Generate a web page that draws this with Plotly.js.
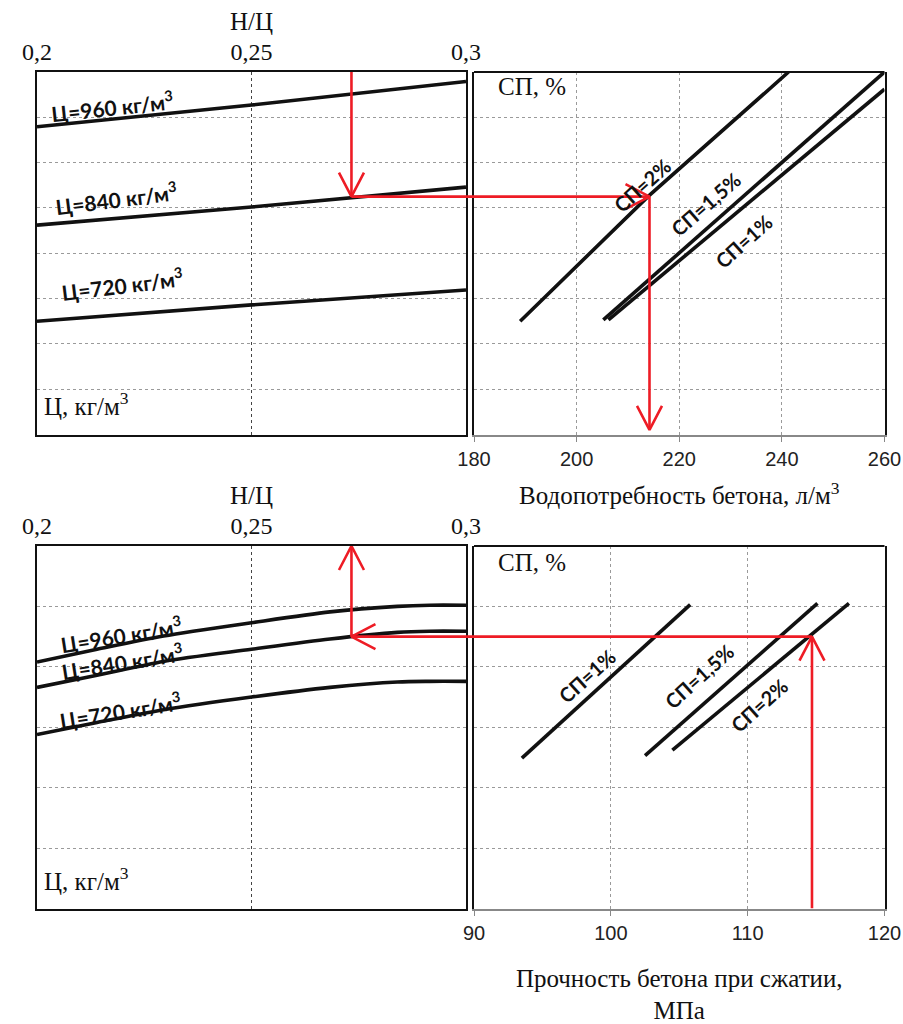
<!DOCTYPE html>
<html>
<head>
<meta charset="utf-8">
<script src="https://cdn.plot.ly/plotly-3.0.1.min.js"></script>
<style>html,body{margin:0;padding:0;background:#fff}#chart{width:903px;height:1024px}</style>
</head>
<body>
<div id="chart"></div>
<script>
// ================= DATA =================
const wcTickVals = [0.2, 0.25, 0.3];
const wcTickText = ['0,2', '0,25', '0,3'];
const waterTicks = [180, 200, 220, 240, 260];
const strengthTicks = [90, 100, 110, 120];

// Top-left: cement content lines vs Н/Ц (nomogram level scale 0..8)
const topWc = [0.2, 0.25, 0.3];
const topC960 = [6.79, 7.27, 7.79];
const topC840 = [4.62, 5.02, 5.46];
const topC720 = [2.50, 2.86, 3.19];

// Top-right: water demand lines (x = л/м3, y = level)
const waterSP2x = [189.0, 214.0, 241.3];
const waterSP2y = [2.50, 5.26, 8.0];
const waterSP15x = [205.2, 260.0];
const waterSP15y = [2.53, 8.0];
const waterSP1x = [206.2, 260.0];
const waterSP1y = [2.53, 7.62];

// Bottom-left: cement content curves vs Н/Ц (level scale 0..6)
const botWc = [0.2, 0.214, 0.2295, 0.25, 0.2683, 0.284, 0.2915, 0.3];
const botC960 = [4.08, 4.29, 4.51, 4.73, 4.91, 5.00, 5.02, 5.02];
const botC840 = [3.66, 3.86, 4.09, 4.29, 4.46, 4.57, 4.59, 4.59];
const botC720 = [2.88, 3.08, 3.29, 3.50, 3.66, 3.75, 3.76, 3.76];

// Bottom-right: compressive strength lines (x = МПа)
const strSP1x = [93.5, 105.8];
const strSP1y = [2.49, 5.03];
const strSP15x = [102.5, 115.1];
const strSP15y = [2.53, 5.05];
const strSP2x = [104.5, 117.4];
const strSP2y = [2.62, 5.05];

// Worked example (red arrows)
const exWc = 0.2733;
const exTopLevel = 5.25;
const exWater = 214.2;
const exWaterEnd = 0.1;
const exBotLevel = 4.50;
const exStrength = 114.7;

// ================= LAYOUT GEOMETRY =================
const W = 903, H = 1024;
const dxL = [37 / W, 466 / W];
const dxR = [474 / W, 884.5 / W];
const dyT = [1 - 434.5 / H, 1 - 72 / H];
const dyB = [1 - 908.5 / H, 1 - 546 / H];
const rTopY = [0, 8], rBotY = [0, 6];
const rWc = [0.2, 0.3], rWater = [180, 260], rStr = [90, 120];

function ppu(dom, rng, size) { return (dom[1] - dom[0]) * size / (rng[1] - rng[0]); }
const pxWcT = ppu(dxL, rWc, W), pxWater = ppu(dxR, rWater, W), pxStr = ppu(dxR, rStr, W);
const pyT = ppu(dyT, rTopY, H), pyB = ppu(dyB, rBotY, H);

const SERIF = 'Liberation Serif, Times New Roman, serif';
const SANS = 'Liberation Sans, Arial, sans-serif';
const BOLD = 'Lato, Open Sans, sans-serif';
const RED = '#ee1c25';
const HL = 24, HW = 12.5; // arrowhead length / half width in px

function blk(x, y, xa, ya, shape) {
  return {x: x, y: y, xaxis: xa, yaxis: ya, mode: 'lines', type: 'scatter',
    line: {color: '#111', width: 3.6, shape: shape || 'linear', smoothing: 0.8},
    hoverinfo: 'skip', showlegend: false};
}
function red(x, y, xa, ya) {
  return {x: x, y: y, xaxis: xa, yaxis: ya, mode: 'lines', type: 'scatter',
    line: {color: RED, width: 2.6}, hoverinfo: 'skip', showlegend: false};
}
// arrowhead (open chevron) at tip, direction: 'up','down','left','right'
function head(tx, ty, dir, xa, ya, pxX, pxY) {
  let x, y;
  if (dir === 'down') { x = [tx - HW / pxX, tx, tx + HW / pxX]; y = [ty + HL / pxY, ty, ty + HL / pxY]; }
  if (dir === 'up') { x = [tx - HW / pxX, tx, tx + HW / pxX]; y = [ty - HL / pxY, ty, ty - HL / pxY]; }
  if (dir === 'right') { x = [tx - HL / pxX, tx, tx - HL / pxX]; y = [ty + HW / pxY, ty, ty - HW / pxY]; }
  if (dir === 'left') { x = [tx + HL / pxX, tx, tx + HL / pxX]; y = [ty + HW / pxY, ty, ty - HW / pxY]; }
  return red(x, y, xa, ya);
}

const traces = [
  // top-left
  blk(topWc, topC960, 'x', 'y'),
  blk(topWc, topC840, 'x', 'y'),
  blk(topWc, topC720, 'x', 'y'),
  // top-right
  blk(waterSP2x, waterSP2y, 'x2', 'y2'),
  blk(waterSP15x, waterSP15y, 'x2', 'y2'),
  blk(waterSP1x, waterSP1y, 'x2', 'y2'),
  // bottom-left
  blk(botWc, botC960, 'x3', 'y3', 'spline'),
  blk(botWc, botC840, 'x3', 'y3', 'spline'),
  blk(botWc, botC720, 'x3', 'y3', 'spline'),
  // bottom-right
  blk(strSP1x, strSP1y, 'x4', 'y4'),
  blk(strSP15x, strSP15y, 'x4', 'y4'),
  blk(strSP2x, strSP2y, 'x4', 'y4'),
  // red example, top
  red([exWc, exWc], [rTopY[1], exTopLevel], 'x', 'y'),
  head(exWc, exTopLevel, 'down', 'x', 'y', pxWcT, pyT),
  red([exWc, rWc[1]], [exTopLevel, exTopLevel], 'x', 'y'),
  red([rWater[0], exWater], [exTopLevel, exTopLevel], 'x2', 'y2'),
  head(exWater, exTopLevel, 'right', 'x2', 'y2', pxWater, pyT),
  red([exWater, exWater], [exTopLevel, exWaterEnd], 'x2', 'y2'),
  head(exWater, exWaterEnd, 'down', 'x2', 'y2', pxWater, pyT),
  // red example, bottom
  red([exStrength, exStrength], [rBotY[0], exBotLevel], 'x4', 'y4'),
  head(exStrength, exBotLevel, 'up', 'x4', 'y4', pxStr, pyB),
  red([exStrength, rStr[0]], [exBotLevel, exBotLevel], 'x4', 'y4'),
  red([rWc[1], exWc], [exBotLevel, exBotLevel], 'x3', 'y3'),
  head(exWc, exBotLevel, 'left', 'x3', 'y3', ppu(dxL, rWc, W), pyB),
  red([exWc, exWc], [exBotLevel, rBotY[1]], 'x3', 'y3'),
  head(exWc, rBotY[1], 'up', 'x3', 'y3', ppu(dxL, rWc, W), pyB)
];

function leftX(dom, anchor) {
  return {domain: dom, range: rWc, anchor: anchor, side: 'top',
    tickvals: wcTickVals, ticktext: wcTickText, ticks: '', ticklabelstandoff: 0,
    tickfont: {family: SERIF, size: 24, color: '#111'},
    title: {text: 'Н/Ц', font: {family: SERIF, size: 25, color: '#111'}, standoff: 2},
    showgrid: true, gridcolor: '#444', griddash: 'dot', gridwidth: 1,
    showline: true, mirror: true, linecolor: '#111', linewidth: 2, zeroline: false, fixedrange: true};
}
function levelY(dom, anchor, rng) {
  return {domain: dom, range: rng, anchor: anchor, dtick: 1, showticklabels: false, ticks: '',
    showgrid: true, gridcolor: '#9a9a9a', griddash: 'dot', gridwidth: 1,
    showline: true, mirror: true, linecolor: '#111', linewidth: 2, zeroline: false, fixedrange: true};
}
function rightX(dom, anchor, rng, ticks, title, standoff) {
  return {domain: dom, range: rng, anchor: anchor, side: 'bottom', tickvals: ticks,
    ticks: 'outside', ticklen: 5, tickcolor: '#888', tickwidth: 1,
    tickfont: {family: SANS, size: 20, color: '#222'},
    title: {text: title, font: {family: SERIF, size: 25, color: '#111'}, standoff: standoff},
    showgrid: true, gridcolor: '#9a9a9a', griddash: 'dot', gridwidth: 1,
    showline: true, mirror: false, linecolor: '#888', linewidth: 2, zeroline: false, fixedrange: true};
}

function lbl(text, x, y, xr, yr, angle, size) {
  return {text: text, x: x, y: y, xref: xr, yref: yr, showarrow: false, textangle: angle,
    font: {family: BOLD, size: size || 20, color: '#111', weight: 'bold'}, xanchor: 'center', yanchor: 'middle'};
}
function plain(text, x, y, xr, yr, xanchor) {
  return {text: text, x: x, y: y, xref: xr, yref: yr, showarrow: false,
    font: {family: SERIF, size: 25, color: '#111'}, xanchor: xanchor || 'center', yanchor: 'middle'};
}

const annotations = [
  lbl('Ц=960 кг/м<sup>3</sup>', 0.2175, 7.25, 'x', 'y', -6, 21),
  lbl('Ц=840 кг/м<sup>3</sup>', 0.2184, 5.22, 'x', 'y', -7, 21),
  lbl('Ц=720 кг/м<sup>3</sup>', 0.2197, 3.32, 'x', 'y', -7, 21),
  lbl('СП=2%', 212.8, 5.51, 'x2', 'y2', -42),
  lbl('СП=1,5%', 225.2, 5.08, 'x2', 'y2', -41),
  lbl('СП=1%', 232.6, 4.26, 'x2', 'y2', -42),
  lbl('Ц=960 кг/м<sup>3</sup>', 0.2196, 4.54, 'x3', 'y3', -9, 21),
  lbl('Ц=840 кг/м<sup>3</sup>', 0.2198, 4.10, 'x3', 'y3', -9, 21),
  lbl('Ц=720 кг/м<sup>3</sup>', 0.2193, 3.29, 'x3', 'y3', -9, 21),
  lbl('СП=1%', 98.24, 3.85, 'x4', 'y4', -42),
  lbl('СП=1,5%', 106.46, 3.85, 'x4', 'y4', -42),
  lbl('СП=2%', 110.85, 3.37, 'x4', 'y4', -42),
  plain('СП, %', 191.3, 7.67, 'x2', 'y2'),
  plain('СП, %', 94.24, 5.73, 'x4', 'y4'),
  plain('Ц, кг/м<sup>3</sup>', 0.2012, 0.67, 'x', 'y', 'left'),
  plain('Ц, кг/м<sup>3</sup>', 0.2012, 0.49, 'x3', 'y3', 'left')
];

const shapes = [
  // top borders of right panels
  {type: 'line', xref: 'x2 domain', yref: 'y2 domain', x0: 0, x1: 1, y0: 1, y1: 1, line: {color: '#111', width: 2}},
  {type: 'line', xref: 'x4 domain', yref: 'y4 domain', x0: 0, x1: 1, y0: 1, y1: 1, line: {color: '#111', width: 2}},
  // red connector across the gap between panels
  {type: 'line', xref: 'paper', yref: 'y', x0: dxL[1], x1: dxR[0], y0: exTopLevel, y1: exTopLevel, line: {color: RED, width: 2.6}},
  {type: 'line', xref: 'paper', yref: 'y3', x0: dxL[1], x1: dxR[0], y0: exBotLevel, y1: exBotLevel, line: {color: RED, width: 2.6}}
];

const layout = {
  width: W, height: H,
  margin: {l: 0, r: 0, t: 0, b: 0},
  paper_bgcolor: '#fff', plot_bgcolor: '#fff',
  showlegend: false,
  xaxis: leftX(dxL, 'y'),
  yaxis: levelY(dyT, 'x', rTopY),
  xaxis2: rightX(dxR, 'y2', rWater, waterTicks, 'Водопотребность бетона, л/м<sup>3</sup>', 18),
  yaxis2: levelY(dyT, 'x2', rTopY),
  xaxis3: leftX(dxL, 'y3'),
  yaxis3: levelY(dyB, 'x3', rBotY),
  xaxis4: rightX(dxR, 'y4', rStr, strengthTicks, 'Прочность бетона при сжатии,<br>МПа', 32),
  yaxis4: levelY(dyB, 'x4', rBotY),
  annotations: annotations,
  shapes: shapes
};

Plotly.newPlot('chart', traces, layout, {displayModeBar: false, staticPlot: true});
</script>
</body>
</html>
